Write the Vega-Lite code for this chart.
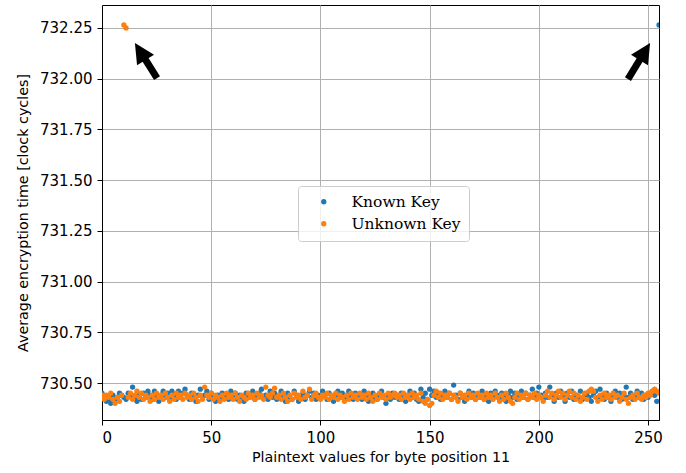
{
  "$schema": "https://vega.github.io/schema/vega-lite/v6.json",
  "width": 557,
  "height": 415,
  "autosize": "none",
  "padding": {"left": 102, "top": 5, "right": 27, "bottom": 53},
  "background": "white",
  "config": {
    "view": {"stroke": "black", "strokeWidth": 1},
    "axis": {
      "labelFont": "DejaVu Sans", "titleFont": "DejaVu Sans",
      "labelFontSize": 15, "titleFontSize": 14.3, "titleFontWeight": "normal",
      "labelColor": "black", "titleColor": "black",
      "domainColor": "black", "tickColor": "black", "tickSize": 5,
      "gridColor": "#b0b0b0", "gridWidth": 1, "labelPadding": 5
    }
  },
  "datasets": {
    "arrows": [
      {"x": 25.2, "y": 732.003, "hx": 17.5, "hy": 732.134, "dir": "left"},
      {"x": 240.8, "y": 731.998, "hx": 248.5, "hy": 732.134, "dir": "right"}
    ]
  },
  "layer": [
    {
      "data": {"values": [
{"x":0,"known":730.45,"unknown":730.44},{"x":1,"known":730.43,"unknown":730.42},{"x":2,"known":730.41,"unknown":730.44},{"x":3,"known":730.42,"unknown":730.43},{"x":4,"known":730.40,"unknown":730.45},{"x":5,"known":730.44,"unknown":730.42},{"x":6,"known":730.42,"unknown":730.40},{"x":7,"known":730.43,"unknown":730.43},{"x":8,"known":730.45,"unknown":730.41},{"x":9,"known":730.44,"unknown":730.44},
{"x":10,"known":730.43,"unknown":732.265},{"x":11,"known":730.42,"unknown":732.25},{"x":12,"known":730.45,"unknown":730.43},{"x":13,"known":730.44,"unknown":730.45},{"x":14,"known":730.48,"unknown":730.42},{"x":15,"known":730.43,"unknown":730.44},{"x":16,"known":730.41,"unknown":730.46},{"x":17,"known":730.44,"unknown":730.43},{"x":18,"known":730.42,"unknown":730.45},{"x":19,"known":730.45,"unknown":730.42},
{"x":20,"known":730.43,"unknown":730.44},{"x":21,"known":730.46,"unknown":730.43},{"x":22,"known":730.44,"unknown":730.41},{"x":23,"known":730.42,"unknown":730.44},{"x":24,"known":730.46,"unknown":730.42},{"x":25,"known":730.43,"unknown":730.45},{"x":26,"known":730.41,"unknown":730.43},{"x":27,"known":730.44,"unknown":730.44},{"x":28,"known":730.46,"unknown":730.42},{"x":29,"known":730.43,"unknown":730.45},
{"x":30,"known":730.45,"unknown":730.43},{"x":31,"known":730.42,"unknown":730.41},{"x":32,"known":730.46,"unknown":730.44},{"x":33,"known":730.44,"unknown":730.42},{"x":34,"known":730.42,"unknown":730.45},{"x":35,"known":730.46,"unknown":730.43},{"x":36,"known":730.43,"unknown":730.44},{"x":37,"known":730.45,"unknown":730.42},{"x":38,"known":730.47,"unknown":730.45},{"x":39,"known":730.44,"unknown":730.43},
{"x":40,"known":730.42,"unknown":730.44},{"x":41,"known":730.45,"unknown":730.42},{"x":42,"known":730.43,"unknown":730.45},{"x":43,"known":730.41,"unknown":730.43},{"x":44,"known":730.44,"unknown":730.41},{"x":45,"known":730.47,"unknown":730.44},{"x":46,"known":730.43,"unknown":730.42},{"x":47,"known":730.44,"unknown":730.48},{"x":48,"known":730.46,"unknown":730.44},{"x":49,"known":730.42,"unknown":730.43},
{"x":50,"known":730.45,"unknown":730.45},{"x":51,"known":730.43,"unknown":730.42},{"x":52,"known":730.41,"unknown":730.44},{"x":53,"known":730.44,"unknown":730.43},{"x":54,"known":730.42,"unknown":730.41},{"x":55,"known":730.45,"unknown":730.44},{"x":56,"known":730.43,"unknown":730.42},{"x":57,"known":730.44,"unknown":730.45},{"x":58,"known":730.42,"unknown":730.43},{"x":59,"known":730.46,"unknown":730.44},
{"x":60,"known":730.43,"unknown":730.42},{"x":61,"known":730.45,"unknown":730.45},{"x":62,"known":730.42,"unknown":730.43},{"x":63,"known":730.44,"unknown":730.41},{"x":64,"known":730.43,"unknown":730.44},{"x":65,"known":730.41,"unknown":730.43},{"x":66,"known":730.45,"unknown":730.42},{"x":67,"known":730.43,"unknown":730.45},{"x":68,"known":730.44,"unknown":730.43},{"x":69,"known":730.46,"unknown":730.44},
{"x":70,"known":730.42,"unknown":730.42},{"x":71,"known":730.44,"unknown":730.45},{"x":72,"known":730.45,"unknown":730.43},{"x":73,"known":730.47,"unknown":730.44},{"x":74,"known":730.43,"unknown":730.42},{"x":75,"known":730.44,"unknown":730.48},{"x":76,"known":730.42,"unknown":730.44},{"x":77,"known":730.46,"unknown":730.43},{"x":78,"known":730.43,"unknown":730.45},{"x":79,"known":730.45,"unknown":730.475},
{"x":80,"known":730.42,"unknown":730.43},{"x":81,"known":730.44,"unknown":730.44},{"x":82,"known":730.46,"unknown":730.42},{"x":83,"known":730.43,"unknown":730.45},{"x":84,"known":730.41,"unknown":730.43},{"x":85,"known":730.45,"unknown":730.41},{"x":86,"known":730.43,"unknown":730.44},{"x":87,"known":730.42,"unknown":730.42},{"x":88,"known":730.46,"unknown":730.45},{"x":89,"known":730.44,"unknown":730.43},
{"x":90,"known":730.41,"unknown":730.44},{"x":91,"known":730.43,"unknown":730.42},{"x":92,"known":730.45,"unknown":730.46},{"x":93,"known":730.42,"unknown":730.43},{"x":94,"known":730.44,"unknown":730.44},{"x":95,"known":730.46,"unknown":730.47},{"x":96,"known":730.43,"unknown":730.42},{"x":97,"known":730.45,"unknown":730.44},{"x":98,"known":730.42,"unknown":730.45},{"x":99,"known":730.44,"unknown":730.43},
{"x":100,"known":730.43,"unknown":730.42},{"x":101,"known":730.46,"unknown":730.44},{"x":102,"known":730.44,"unknown":730.43},{"x":103,"known":730.42,"unknown":730.45},{"x":104,"known":730.45,"unknown":730.42},{"x":105,"known":730.43,"unknown":730.44},{"x":106,"known":730.41,"unknown":730.43},{"x":107,"known":730.44,"unknown":730.45},{"x":108,"known":730.46,"unknown":730.42},{"x":109,"known":730.43,"unknown":730.44},
{"x":110,"known":730.45,"unknown":730.43},{"x":111,"known":730.42,"unknown":730.41},{"x":112,"known":730.44,"unknown":730.44},{"x":113,"known":730.46,"unknown":730.42},{"x":114,"known":730.43,"unknown":730.45},{"x":115,"known":730.42,"unknown":730.43},{"x":116,"known":730.45,"unknown":730.44},{"x":117,"known":730.43,"unknown":730.42},{"x":118,"known":730.44,"unknown":730.45},{"x":119,"known":730.42,"unknown":730.43},
{"x":120,"known":730.46,"unknown":730.44},{"x":121,"known":730.43,"unknown":730.42},{"x":122,"known":730.41,"unknown":730.45},{"x":123,"known":730.44,"unknown":730.43},{"x":124,"known":730.45,"unknown":730.41},{"x":125,"known":730.43,"unknown":730.44},{"x":126,"known":730.42,"unknown":730.42},{"x":127,"known":730.44,"unknown":730.45},{"x":128,"known":730.46,"unknown":730.43},{"x":129,"known":730.43,"unknown":730.44},
{"x":130,"known":730.40,"unknown":730.42},{"x":131,"known":730.44,"unknown":730.45},{"x":132,"known":730.42,"unknown":730.43},{"x":133,"known":730.45,"unknown":730.44},{"x":134,"known":730.43,"unknown":730.45},{"x":135,"known":730.44,"unknown":730.43},{"x":136,"known":730.42,"unknown":730.44},{"x":137,"known":730.45,"unknown":730.42},{"x":138,"known":730.43,"unknown":730.45},{"x":139,"known":730.41,"unknown":730.43},
{"x":140,"known":730.44,"unknown":730.44},{"x":141,"known":730.46,"unknown":730.42},{"x":142,"known":730.43,"unknown":730.45},{"x":143,"known":730.45,"unknown":730.43},{"x":144,"known":730.42,"unknown":730.44},{"x":145,"known":730.41,"unknown":730.42},{"x":146,"known":730.47,"unknown":730.45},{"x":147,"known":730.43,"unknown":730.41},{"x":148,"known":730.45,"unknown":730.40},{"x":149,"known":730.42,"unknown":730.42},
{"x":150,"known":730.47,"unknown":730.39},{"x":151,"known":730.44,"unknown":730.40},{"x":152,"known":730.46,"unknown":730.44},{"x":153,"known":730.43,"unknown":730.46},{"x":154,"known":730.45,"unknown":730.43},{"x":155,"known":730.42,"unknown":730.45},{"x":156,"known":730.44,"unknown":730.42},{"x":157,"known":730.46,"unknown":730.44},{"x":158,"known":730.43,"unknown":730.43},{"x":159,"known":730.45,"unknown":730.45},
{"x":160,"known":730.42,"unknown":730.42},{"x":161,"known":730.49,"unknown":730.44},{"x":162,"known":730.44,"unknown":730.43},{"x":163,"known":730.42,"unknown":730.41},{"x":164,"known":730.45,"unknown":730.45},{"x":165,"known":730.43,"unknown":730.43},{"x":166,"known":730.41,"unknown":730.44},{"x":167,"known":730.44,"unknown":730.42},{"x":168,"known":730.46,"unknown":730.45},{"x":169,"known":730.43,"unknown":730.43},
{"x":170,"known":730.45,"unknown":730.44},{"x":171,"known":730.42,"unknown":730.42},{"x":172,"known":730.44,"unknown":730.45},{"x":173,"known":730.43,"unknown":730.43},{"x":174,"known":730.46,"unknown":730.44},{"x":175,"known":730.42,"unknown":730.42},{"x":176,"known":730.44,"unknown":730.45},{"x":177,"known":730.41,"unknown":730.43},{"x":178,"known":730.45,"unknown":730.44},{"x":179,"known":730.43,"unknown":730.42},
{"x":180,"known":730.46,"unknown":730.45},{"x":181,"known":730.44,"unknown":730.43},{"x":182,"known":730.42,"unknown":730.41},{"x":183,"known":730.45,"unknown":730.44},{"x":184,"known":730.43,"unknown":730.42},{"x":185,"known":730.41,"unknown":730.45},{"x":186,"known":730.44,"unknown":730.43},{"x":187,"known":730.46,"unknown":730.41},{"x":188,"known":730.43,"unknown":730.40},{"x":189,"known":730.45,"unknown":730.43},
{"x":190,"known":730.42,"unknown":730.45},{"x":191,"known":730.44,"unknown":730.42},{"x":192,"known":730.46,"unknown":730.44},{"x":193,"known":730.43,"unknown":730.43},{"x":194,"known":730.45,"unknown":730.45},{"x":195,"known":730.42,"unknown":730.42},{"x":196,"known":730.44,"unknown":730.44},{"x":197,"known":730.47,"unknown":730.43},{"x":198,"known":730.43,"unknown":730.45},{"x":199,"known":730.45,"unknown":730.42},
{"x":200,"known":730.48,"unknown":730.44},{"x":201,"known":730.44,"unknown":730.43},{"x":202,"known":730.42,"unknown":730.41},{"x":203,"known":730.45,"unknown":730.44},{"x":204,"known":730.43,"unknown":730.46},{"x":205,"known":730.48,"unknown":730.43},{"x":206,"known":730.44,"unknown":730.45},{"x":207,"known":730.41,"unknown":730.42},{"x":208,"known":730.45,"unknown":730.44},{"x":209,"known":730.43,"unknown":730.46},
{"x":210,"known":730.46,"unknown":730.43},{"x":211,"known":730.44,"unknown":730.45},{"x":212,"known":730.41,"unknown":730.42},{"x":213,"known":730.45,"unknown":730.44},{"x":214,"known":730.43,"unknown":730.46},{"x":215,"known":730.46,"unknown":730.43},{"x":216,"known":730.42,"unknown":730.45},{"x":217,"known":730.44,"unknown":730.42},{"x":218,"known":730.43,"unknown":730.44},{"x":219,"known":730.46,"unknown":730.41},
{"x":220,"known":730.42,"unknown":730.43},{"x":221,"known":730.44,"unknown":730.45},{"x":222,"known":730.45,"unknown":730.42},{"x":223,"known":730.43,"unknown":730.46},{"x":224,"known":730.41,"unknown":730.47},{"x":225,"known":730.44,"unknown":730.46},{"x":226,"known":730.46,"unknown":730.43},{"x":227,"known":730.43,"unknown":730.41},{"x":228,"known":730.47,"unknown":730.44},{"x":229,"known":730.44,"unknown":730.42},
{"x":230,"known":730.42,"unknown":730.45},{"x":231,"known":730.45,"unknown":730.43},{"x":232,"known":730.43,"unknown":730.44},{"x":233,"known":730.41,"unknown":730.42},{"x":234,"known":730.44,"unknown":730.45},{"x":235,"known":730.46,"unknown":730.43},{"x":236,"known":730.43,"unknown":730.44},{"x":237,"known":730.45,"unknown":730.41},{"x":238,"known":730.42,"unknown":730.43},{"x":239,"known":730.44,"unknown":730.45},
{"x":240,"known":730.48,"unknown":730.42},{"x":241,"known":730.43,"unknown":730.40},{"x":242,"known":730.45,"unknown":730.43},{"x":243,"known":730.42,"unknown":730.44},{"x":244,"known":730.44,"unknown":730.42},{"x":245,"known":730.46,"unknown":730.45},{"x":246,"known":730.43,"unknown":730.43},{"x":247,"known":730.45,"unknown":730.42},{"x":248,"known":730.42,"unknown":730.44},{"x":249,"known":730.44,"unknown":730.43},
{"x":250,"known":730.43,"unknown":730.45},{"x":251,"known":730.45,"unknown":730.44},{"x":252,"known":730.46,"unknown":730.46},{"x":253,"known":730.44,"unknown":730.47},{"x":254,"known":730.41,"unknown":730.46},{"x":255,"known":732.265,"unknown":730.45}
      ]},
      "transform": [{"fold": ["known", "unknown"], "as": ["series", "y"]}],
      "mark": {"type": "point", "filled": true, "opacity": 1, "size": 28, "clip": true, "shape": "circle"},
      "encoding": {
        "x": {
          "field": "x", "type": "quantitative",
          "scale": {"domain": [0, 255], "nice": false, "zero": false},
          "axis": {"values": [0, 50, 100, 150, 200, 250], "title": "Plaintext values for byte position 11", "titlePadding": 5, "grid": true}
        },
        "y": {
          "field": "y", "type": "quantitative",
          "scale": {"domain": [730.318, 732.363], "nice": false, "zero": false},
          "axis": {"values": [730.5, 730.75, 731.0, 731.25, 731.5, 731.75, 732.0, 732.25], "format": ".2f", "title": "Average encryption time [clock cycles]", "titlePadding": 9, "grid": true}
        },
        "color": {
          "field": "series", "type": "nominal",
          "scale": {"domain": ["known", "unknown"], "range": ["#1f77b4", "#ff7f0e"]},
          "legend": {
            "title": null,
            "orient": "none", "legendX": 196, "legendY": 181,
            "labelExpr": "datum.label == 'known' ? 'Known Key' : 'Unknown Key'",
            "labelFont": "DejaVu Serif", "labelFontSize": 15.5, "labelColor": "black",
            "symbolType": "circle", "symbolSize": 28, "symbolStrokeWidth": 0,
            "symbolOffset": 10, "labelOffset": 20, "rowPadding": 5,
            "padding": 8, "strokeColor": "#cccccc", "fillColor": "rgba(255,255,255,0.8)",
            "cornerRadius": 3
          }
        },
        "order": {"field": "series", "type": "nominal"}
      }
    },
    {
      "data": {"name": "arrows"},
      "mark": {"type": "rule", "color": "black", "strokeWidth": 7, "strokeCap": "butt"},
      "encoding": {
        "x": {"field": "x", "type": "quantitative"},
        "y": {"field": "y", "type": "quantitative"},
        "x2": {"field": "hx"},
        "y2": {"field": "hy"}
      }
    },
    {
      "data": {"name": "arrows"},
      "mark": {"type": "point", "filled": true, "color": "black", "opacity": 1, "shape": "M0,-1L1,1L-1,1Z", "size": 400, "strokeWidth": 0},
      "encoding": {
        "x": {"field": "hx", "type": "quantitative"},
        "y": {"field": "hy", "type": "quantitative"},
        "angle": {"field": "dir", "type": "nominal", "scale": {"domain": ["left", "right"], "range": [328, 32]}, "legend": null}
      }
    }
  ]
}
